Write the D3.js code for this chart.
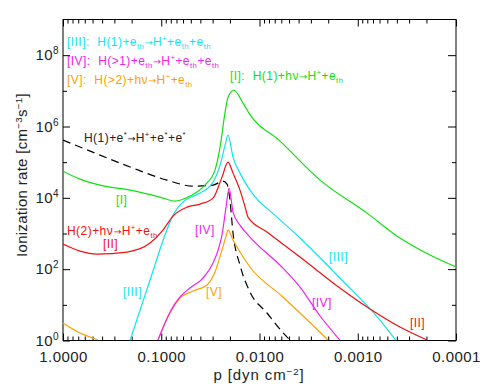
<!DOCTYPE html>
<html>
<head>
<meta charset="utf-8">
<script src="https://cdn.jsdelivr.net/npm/d3@7"></script>
<style>
body { margin: 0; background: #fff; }
svg { display: block; font-family: "Liberation Sans", Arial, sans-serif; }
</style>
</head>
<body>
<script>
// [I] H(1)+hv -> H+ + e_th
var pI = [1, 0.671, 0.42, 0.208, 0.103, 0.0725, 0.051, 0.0359, 0.0284, 0.0252, 0.0224, 0.0209, 0.0182, 0.0147, 0.0128, 0.00618, 0.00242, 0.000805, 0.000372, 0.000184, 0.0001];
var rI = [5.6e4, 3.35e4, 2.27e4, 1.65e4, 1.05e4, 8.1e3, 1.12e4, 2.27e4, 5.98e4, 2.64e5, 2.52e6, 6.65e6, 1.04e7, 4.52e6, 2.37e6, 3.89e5, 3.14e4, 3.73e3, 745, 249, 115];

// [II] H(2)+hv -> H+ + e_th
var pII = [1, 0.671, 0.451, 0.223, 0.130, 0.096, 0.0759, 0.0547, 0.0403, 0.0297, 0.0241, 0.0209, 0.0186, 0.0158, 0.014, 0.0131, 0.00839, 0.00387, 0.00152, 0.000805, 0.000372, 0.000197];
var rII = [506, 322, 265, 302, 539, 1.25e3, 3.08e3, 5.5e3, 6.68e3, 9.84e3, 3.81e4, 1.0e5, 4.93e4, 1.65e4, 5.5e3, 2.89e3, 1.10e3, 219, 29.6, 8.68, 2.39, 1.03];

// [III] H(1)+e_th -> H+ + 2 e_th
var pIII = [0.208, 0.130, 0.0916, 0.0759, 0.0645, 0.0547, 0.0403, 0.0297, 0.0252, 0.0224, 0.0209, 0.0186, 0.0158, 0.0131, 0.0104, 0.00819, 0.00387, 0.00152, 0.000594, 0.000408];
var rIII = [1.0, 49.6, 904, 3.28e3, 6.26e3, 9.22e3, 1.36e4, 2.76e4, 8.26e4, 3.0e5, 5.73e5, 1.39e5, 4.93e4, 2.0e4, 8.65e3, 4.83e3, 745, 56.4, 3.75, 1.0];

// [IV] H(>1)+e_th -> H+ + 2 e_th
var pIV = [0.108, 0.0814, 0.0645, 0.051, 0.0376, 0.0297, 0.0264, 0.0241, 0.0219, 0.0204, 0.0186, 0.0158, 0.0125, 0.00577, 0.00387, 0.00242, 0.00152];
var rIV = [1.03, 6.3, 16.6, 29.6, 56.4, 148, 343, 904, 5.5e3, 1.87e4, 3.98e3, 1.72e3, 794, 107, 31.6, 4.86, 1.03];

// [V] H(>2)+hv -> H+ + e_th (two pieces)
var pVa = [1, 0.671, 0.531, 0.44];
var rVa = [3.09, 1.62, 1.25, 1.03];
var pV = [0.108, 0.0814, 0.0645, 0.0475, 0.0342, 0.0284, 0.0241, 0.0219, 0.0209, 0.0186, 0.0158, 0.0125, 0.00577, 0.00387, 0.00201];
var rV = [1.03, 5.9, 15.5, 24.4, 35.9, 83, 343, 847, 1.25e3, 655, 302, 115, 16.6, 5.9, 1.03];

// H(1)+e* -> H+ + 2 e*
var pE = [1, 0.42, 0.194, 0.0874, 0.0475, 0.0297, 0.0235, 0.0214, 0.02, 0.0186, 0.0158, 0.0125, 0.00839, 0.0055, 0.0049];
var rE = [4.15e5, 1.58e5, 6.81e4, 3.14e4, 2.13e4, 2.27e4, 2.94e4, 2.43e4, 8.65e3, 1.03e3, 130, 22.9, 5.9, 1.43, 1.03];

var xMajor = [1, 0.1, 0.01, 0.001, 0.0001];
var yMajor = [1, 1e2, 1e4, 1e6, 1e8];
var yMinor = [10, 1e3, 1e5, 1e7];

var width = 485, height = 388;
var x = d3.scaleLog().domain([1, 1e-4]).range([63, 456]);
var y = d3.scaleLog().domain([1, 1e9]).range([340.5, 19.5]);

var xMinor = [];
xMajor.slice(0, 4).forEach(function (d) {
    for (var k = 2; k <= 9; k++) xMinor.push(d * k / 10);
});

var svg = d3.select("body").append("svg").attr("width", width).attr("height", height);

// ticks
function strip(g) { g.select(".domain").remove(); }
svg.append("g").attr("transform", "translate(0,340.5)")
    .call(d3.axisBottom(x).tickValues(xMajor).tickSize(-7).tickPadding(11).tickFormat(d3.format(".4f")))
    .call(strip);
svg.append("g").attr("transform", "translate(0,340.5)")
    .call(d3.axisBottom(x).tickValues(xMinor).tickSize(-4).tickFormat(""))
    .call(strip);
svg.append("g").attr("transform", "translate(0,19.5)")
    .call(d3.axisTop(x).tickValues(xMajor).tickSize(-7).tickFormat(""))
    .call(strip);
svg.append("g").attr("transform", "translate(0,19.5)")
    .call(d3.axisTop(x).tickValues(xMinor).tickSize(-4).tickFormat(""))
    .call(strip);

var yl = svg.append("g").attr("transform", "translate(63,0)")
    .call(d3.axisLeft(y).tickValues(yMajor).tickSize(-7).tickPadding(4))
    .call(strip);
svg.append("g").attr("transform", "translate(63,0)")
    .call(d3.axisLeft(y).tickValues(yMinor).tickSize(-4).tickFormat(""))
    .call(strip);
svg.append("g").attr("transform", "translate(456,0)")
    .call(d3.axisRight(y).tickValues(yMajor).tickSize(-8).tickFormat(""))
    .call(strip);
svg.append("g").attr("transform", "translate(456,0)")
    .call(d3.axisRight(y).tickValues(yMinor).tickSize(-4).tickFormat(""))
    .call(strip);

svg.selectAll(".tick text").attr("font-size", 15).attr("fill", "#222")
    .attr("font-family", "'Liberation Sans', Arial, sans-serif").attr("letter-spacing", 0.4);

yl.selectAll(".tick text").each(function (d) {
    var t = d3.select(this);
    t.text("");
    t.append("tspan").text("10");
    t.append("tspan").attr("dy", -6).attr("font-size", 10).text(Math.round(Math.log10(d)));
});

// frame
svg.append("rect").attr("x", 63).attr("y", 19.5).attr("width", 393).attr("height", 321)
    .attr("fill", "none").attr("stroke", "#000").attr("stroke-width", 1);

// curves
svg.append("clipPath").attr("id", "plot").append("rect")
    .attr("x", 63).attr("y", 19.5).attr("width", 393).attr("height", 321);
var plot = svg.append("g").attr("clip-path", "url(#plot)");

var line = d3.line().x(function (d) { return x(d[0]); }).y(function (d) { return y(d[1]); })
    .curve(d3.curveMonotoneX);

function draw(ps, rs, color, dash) {
    plot.append("path").datum(d3.zip(ps, rs))
        .attr("d", line).attr("fill", "none").attr("stroke", color)
        .attr("stroke-width", 1.2).attr("stroke-dasharray", dash || null);
}

var cI = "#11e011", cII = "#f01010", cIII = "#10e4f0", cIV = "#f020f0", cV = "#ffa000";
draw(pE, rE, "#000", "8,5");
draw(pVa, rVa, cV);
draw(pV, rV, cV);
draw(pIV, rIV, cIV);
draw(pIII, rIII, cIII);
draw(pII, rII, cII);
draw(pI, rI, cI);

// labels
function rich(x0, y0, color, parts, size, anchor, spacing) {
    var t = svg.append("text").attr("x", x0).attr("y", y0).attr("fill", color)
        .attr("font-size", size).attr("text-anchor", anchor || "start")
        .attr("letter-spacing", spacing == null ? 0.45 : spacing);
    var shift = 0;
    parts.forEach(function (p) {
        var k = p[1];
        var target = k === "sub" ? 3 : k === "sup" ? -5 : 0;
        var s = t.append("tspan").attr("dy", target - shift)
            .attr("font-size", k === "sub" || k === "sup" ? size * 0.65 : k === "arr" ? size * 0.8 : size)
            .text(p[0]);
        if (k === "arr") s.attr("font-family", "'DejaVu Sans', sans-serif");
        shift = target;
    });
    return t;
}

var fs = 12, A = ["\u2192", "arr"];
rich(67, 46, cIII, [["[III]:\u00a0 H(1)+e"], ["th", "sub"], A, ["H"], ["+", "sup"], ["+e"], ["th", "sub"], ["+e"], ["th", "sub"]], fs);
rich(67, 65, cIV, [["[IV]:\u00a0 H(>1)+e"], ["th", "sub"], A, ["H"], ["+", "sup"], ["+e"], ["th", "sub"], ["+e"], ["th", "sub"]], fs);
rich(67, 84, cV, [["[V]:\u00a0 H(>2)+h\u03bd"], A, ["H"], ["+", "sup"], ["+e"], ["th", "sub"]], fs);
rich(230, 80, cI, [["[I]:\u00a0 H(1)+h\u03bd"], A, ["H"], ["+", "sup"], ["+e"], ["th", "sub"]], fs);
rich(84, 142, "#222", [["H(1)+e"], ["*", "sup"], A, ["H"], ["+", "sup"], ["+e"], ["*", "sup"], ["+e"], ["*", "sup"]], fs);
rich(67, 235, cII, [["H(2)+h\u03bd"], A, ["H"], ["+", "sup"], ["+e"], ["th", "sub"]], fs);

rich(116, 204, cI, [["[I]"]], fs);
rich(103, 248, cII, [["[II]"]], fs);
rich(195, 234, cIV, [["[IV]"]], fs);
rich(123, 296, cIII, [["[III]"]], fs);
rich(206, 296, cV, [["[V]"]], fs);
rich(329, 261, cIII, [["[III]"]], fs);
rich(312, 307, cIV, [["[IV]"]], fs);
rich(410, 327, cII, [["[II]"]], fs);

// axis titles
rich(259, 380, "#222", [["p [dyn cm"], ["\u22122", "sup"], ["]"]], 15, "middle", 0.9);
rich(0, 0, "#222", [["Ionization rate [cm"], ["\u22123", "sup"], ["s"], ["\u22121", "sup"], ["]"]], 15, "middle", 0.3)
    .attr("transform", "translate(27,175) rotate(-90)");
</script>
</body>
</html>
